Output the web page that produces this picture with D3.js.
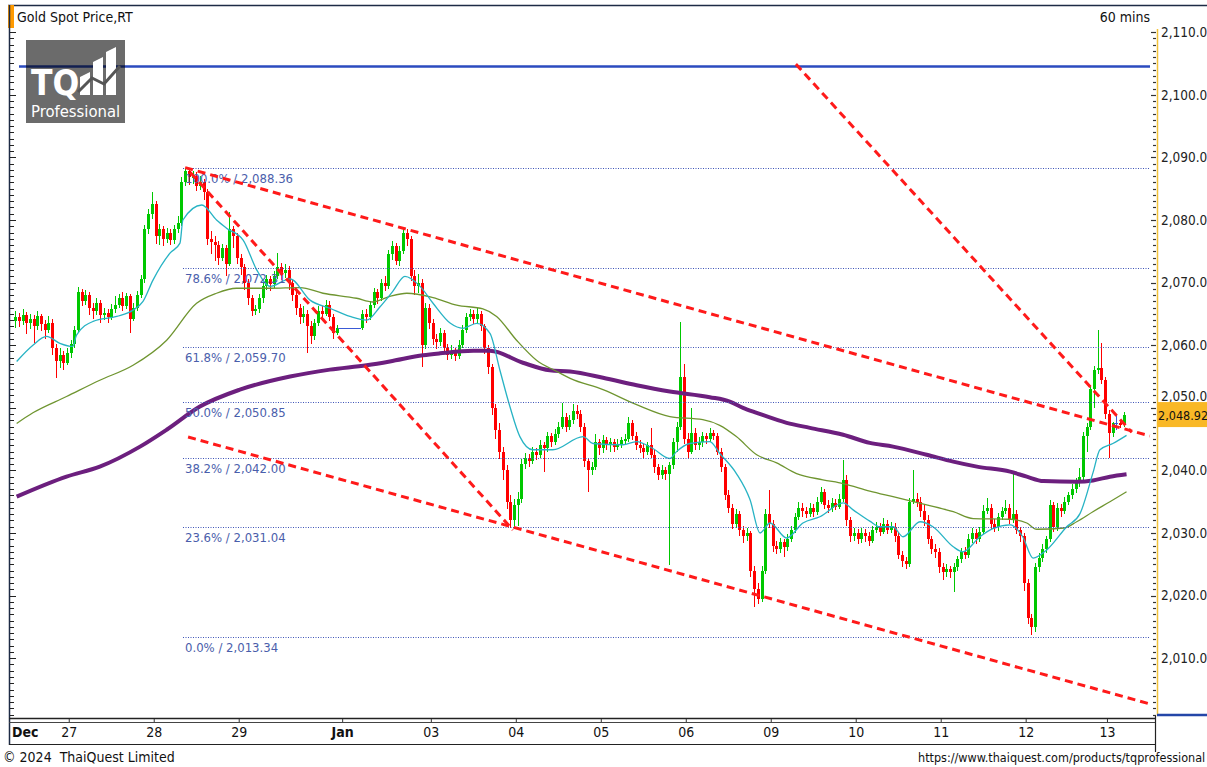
<!DOCTYPE html>
<html>
<head>
<meta charset="utf-8">
<title>Gold Spot Price,RT</title>
<script src="https://cdn.jsdelivr.net/npm/d3@7"></script>
<style>
  body { margin: 0; background: #fff; }
  svg text { font-family: "DejaVu Sans Condensed", "DejaVu Sans", sans-serif; }
</style>
</head>
<body>
<div id="container"></div>
<script>
// ---- data (hourly candles) ----
var firstOpen = 2063.8;
var closes = [
  2064.5,2063.8,2064.9,2063.5,2064.2,2063.0,2064.6,2063.4,2062.5,2063.6,
  2059.5,2057.5,2058.5,2057.2,2058.8,2060.2,2062.5,2068.5,2067.0,2068.0,
  2066.0,2065.5,2066.8,2064.8,2065.2,2064.5,2065.8,2066.5,2067.5,2066.2,
  2067.8,2064.2,2066.0,2068.0,2070.5,2078.5,2081.0,2082.5,2077.5,2078.5,
  2077.0,2078.0,2076.8,2078.5,2079.5,2086.0,2087.8,2086.8,2087.0,2085.5,
  2086.0,2084.5,2077.0,2076.5,2076.0,2074.0,2075.5,2073.0,2078.5,2077.5,
  2074.0,2072.5,2070.0,2067.5,2065.5,2065.8,2067.5,2069.5,2070.5,2069.8,
  2071.0,2072.5,2071.5,2072.0,2070.0,2068.0,2066.0,2064.5,2065.0,2063.0,
  2061.5,2063.5,2065.5,2065.0,2066.5,2064.5,2062.0,2062.8,2062.8,2062.8,
  2062.8,2062.8,2062.8,2062.8,2065.0,2064.5,2066.5,2068.5,2067.5,2070.0,
  2069.5,2074.5,2075.8,2073.5,2075.0,2078.0,2077.0,2071.0,2069.5,2070.0,
  2060.0,2066.0,2063.5,2061.0,2060.5,2062.0,2059.5,2058.5,2059.0,2058.3,
  2060.0,2062.5,2064.5,2065.0,2064.2,2065.0,2063.0,2059.5,2056.5,2050.0,
  2046.5,2043.0,2040.0,2035.0,2032.0,2034.5,2035.5,2041.0,2042.0,2041.5,
  2043.0,2042.5,2044.0,2043.5,2045.5,2044.5,2045.8,2047.0,2048.5,2047.0,
  2048.0,2049.5,2049.0,2047.0,2041.5,2040.0,2040.5,2044.5,2043.5,2044.8,
  2044.0,2044.5,2043.8,2044.2,2044.8,2045.0,2047.5,2045.5,2044.0,2043.5,
  2043.0,2044.0,2042.5,2040.5,2039.2,2040.0,2039.5,2040.8,2044.5,2047.0,
  2055.0,2045.0,2043.0,2046.0,2044.0,2044.5,2045.5,2045.0,2046.0,2045.5,
  2043.0,2040.5,2036.0,2034.0,2031.5,2033.0,2030.5,2029.5,2030.0,2024.0,
  2021.0,2019.5,2024.0,2033.0,2031.5,2028.0,2027.5,2028.5,2027.8,2029.0,
  2030.5,2032.5,2034.0,2033.5,2033.0,2034.0,2033.3,2035.0,2036.5,2034.5,
  2034.0,2034.8,2034.2,2035.5,2038.5,2032.0,2029.5,2030.0,2029.0,2030.0,
  2029.5,2028.8,2030.5,2031.0,2030.2,2031.5,2030.5,2031.0,2029.5,2026.5,
  2025.5,2025.0,2035.0,2035.5,2035.0,2033.5,2032.0,2029.0,2027.5,2027.0,
  2024.5,2023.8,2024.2,2023.7,2024.5,2025.8,2027.0,2026.5,2029.0,2030.0,
  2029.0,2030.2,2033.5,2034.0,2031.5,2031.0,2032.5,2033.5,2034.0,2032.0,
  2033.0,2030.5,2029.5,2022.0,2016.5,2015.0,2024.5,2026.0,2027.5,2029.0,
  2034.5,2031.0,2034.0,2033.5,2035.0,2036.0,2037.0,2038.0,2039.0,2045.5,
  2047.0,2053.0,2056.0,2056.3,2054.5,2049.0,2046.0,2047.6,2047.6,2047.2,
  2048.92
];
var highs = [
  2065.5,2065.2,2065.8,2065.3,2065.0,2064.8,2065.4,2065.0,2064.0,2064.6,
  2064.2,2060.2,2059.6,2059.0,2059.5,2060.8,2063.0,2069.3,2069.0,2068.8,
  2068.5,2066.8,2067.5,2067.2,2066.0,2065.8,2066.6,2067.8,2068.2,2068.5,
  2068.4,2068.2,2066.8,2068.6,2071.2,2079.2,2081.8,2084.5,2083.0,2079.4,
  2079.0,2078.8,2078.6,2079.2,2080.6,2086.8,2088.36,2088.2,2087.9,2087.6,
  2087.0,2086.5,2085.0,2078.2,2077.5,2076.6,2076.2,2076.0,2081.2,2079.0,
  2078.0,2074.6,2073.0,2070.6,2068.0,2066.5,2068.2,2070.0,2071.2,2071.0,
  2071.8,2074.7,2073.2,2073.0,2072.6,2070.4,2068.8,2066.6,2066.2,2065.6,
  2063.8,2064.2,2066.2,2066.3,2067.2,2067.0,2065.0,2063.2,2062.8,2062.8,
  2062.8,2062.8,2062.8,2062.8,2065.6,2065.8,2067.0,2069.2,2069.0,2070.6,
  2071.0,2075.2,2076.6,2076.3,2075.8,2078.9,2078.5,2077.4,2072.0,2071.4,
  2070.6,2066.8,2066.6,2064.2,2061.8,2062.8,2062.5,2060.2,2060.0,2059.6,
  2060.8,2063.2,2065.2,2065.8,2065.6,2066.0,2065.5,2063.4,2060.0,2057.0,
  2050.6,2047.6,2043.8,2040.8,2036.0,2035.4,2036.5,2041.8,2042.8,2042.6,
  2043.8,2043.6,2044.8,2044.6,2046.2,2046.0,2046.6,2047.8,2050.8,2049.2,
  2048.8,2050.6,2050.4,2049.6,2047.6,2042.0,2041.4,2045.8,2045.0,2045.6,
  2045.4,2045.2,2045.0,2045.0,2045.4,2045.8,2048.5,2048.0,2046.2,2044.8,
  2044.2,2044.6,2046.8,2043.2,2041.0,2040.8,2040.6,2041.4,2045.2,2047.8,
  2063.7,2057.0,2046.0,2050.0,2046.8,2045.4,2046.2,2046.0,2046.8,2046.5,
  2046.0,2043.6,2041.0,2036.8,2034.6,2033.8,2033.5,2031.2,2030.8,2030.4,
  2024.8,2022.0,2024.8,2033.8,2036.9,2032.0,2028.8,2029.2,2029.0,2029.8,
  2031.2,2033.2,2035.0,2034.8,2034.2,2034.8,2034.6,2035.8,2037.4,2037.0,
  2035.2,2035.6,2035.4,2036.2,2041.7,2039.2,2032.6,2030.8,2030.6,2030.8,
  2030.6,2030.2,2031.2,2031.8,2031.6,2032.4,2032.0,2031.8,2031.6,2030.0,
  2027.2,2026.2,2035.6,2040.0,2036.4,2035.8,2034.4,2032.8,2029.6,2028.2,
  2027.6,2025.2,2025.0,2024.8,2025.2,2026.4,2027.6,2027.8,2029.8,2030.8,
  2030.6,2031.0,2034.4,2035.6,2034.6,2032.2,2033.2,2034.2,2035.2,2034.6,
  2039.6,2033.6,2031.0,2030.0,2022.6,2017.0,2025.2,2026.8,2028.2,2029.6,
  2035.3,2035.0,2034.8,2034.6,2035.8,2036.6,2037.8,2038.8,2040.4,2046.2,
  2047.6,2053.6,2056.6,2062.4,2060.3,2055.0,2049.6,2047.8,2049.0,2048.0,
  2049.4
];
var lows = [
  2062.8,2062.9,2063.2,2061.8,2062.6,2060.4,2062.5,2062.2,2061.0,2062.0,
  2058.5,2054.8,2056.4,2056.0,2056.8,2058.0,2059.6,2062.0,2066.2,2066.5,
  2064.8,2064.2,2064.9,2063.6,2064.0,2063.5,2064.0,2065.2,2066.0,2065.4,
  2065.8,2062.0,2063.8,2065.5,2067.6,2070.0,2077.8,2080.2,2076.2,2076.0,
  2075.8,2076.4,2076.0,2076.2,2078.0,2079.0,2085.5,2085.6,2085.8,2084.6,
  2084.8,2083.2,2076.0,2074.5,2073.5,2072.8,2073.4,2071.0,2072.6,2075.6,
  2073.0,2071.2,2068.8,2066.4,2064.6,2064.8,2065.2,2066.8,2068.8,2068.6,
  2069.2,2070.6,2070.4,2070.8,2068.8,2067.0,2064.8,2063.4,2063.6,2058.8,
  2060.2,2060.8,2063.0,2064.2,2064.6,2063.8,2061.0,2061.6,2062.8,2062.8,
  2062.8,2062.8,2062.8,2062.8,2062.4,2063.6,2064.0,2066.0,2066.6,2067.0,
  2068.6,2069.0,2073.6,2072.8,2072.6,2074.5,2075.8,2070.2,2068.0,2068.4,
  2056.5,2059.4,2062.6,2060.0,2059.4,2059.8,2058.6,2057.6,2057.8,2057.5,
  2057.8,2059.6,2062.0,2063.8,2063.4,2063.6,2062.2,2058.6,2055.4,2048.8,
  2045.0,2041.8,2038.4,2033.8,2030.8,2031.0,2031.2,2034.8,2040.2,2040.6,
  2041.0,2041.6,2042.0,2039.8,2043.0,2043.8,2044.0,2045.2,2046.6,2046.2,
  2046.4,2047.4,2048.2,2046.2,2040.6,2036.5,2039.2,2040.0,2042.4,2042.8,
  2043.2,2043.0,2043.0,2043.2,2043.6,2044.0,2044.6,2044.8,2043.2,2042.8,
  2042.0,2042.4,2042.0,2039.6,2038.4,2038.6,2038.5,2024.9,2040.2,2043.0,
  2046.4,2044.2,2042.0,2042.6,2043.2,2043.2,2043.8,2044.2,2044.6,2044.8,
  2042.4,2039.8,2035.2,2033.2,2030.6,2030.8,2029.6,2028.4,2028.8,2023.0,
  2018.2,2018.6,2019.0,2023.4,2030.8,2027.0,2026.6,2026.8,2026.2,2027.2,
  2028.6,2030.0,2032.0,2032.6,2032.4,2032.6,2032.6,2032.8,2034.6,2033.8,
  2033.2,2033.4,2033.6,2033.8,2035.0,2031.2,2028.6,2028.8,2028.2,2028.4,
  2028.6,2028.0,2028.4,2030.0,2029.6,2029.8,2029.8,2030.0,2028.6,2025.8,
  2024.6,2024.3,2024.6,2034.6,2034.2,2032.6,2031.2,2028.2,2026.6,2026.0,
  2023.6,2022.5,2023.0,2022.8,2020.6,2024.0,2025.2,2025.8,2026.0,2028.4,
  2028.2,2028.6,2029.8,2033.0,2030.6,2030.2,2030.4,2032.0,2033.0,2031.4,
  2031.6,2029.8,2028.6,2020.8,2015.4,2013.7,2014.2,2023.8,2025.4,2026.8,
  2028.6,2030.2,2030.4,2032.6,2033.0,2034.4,2035.4,2036.4,2037.4,2038.5,
  2043.0,2046.4,2050.0,2055.4,2053.8,2048.2,2042.0,2045.4,2046.4,2046.8,
  2046.9
];

// moving averages, [candle index, price]
var maFast = [
  [0.4,2057.4],[4.8,2060.0],[8.5,2061.4],[12.1,2060.3],[15.6,2059.8],[16.6,2061.6],
  [21.1,2063.8],[27.5,2064.6],[31.9,2065.6],[34.6,2067.0],[37.3,2070.4],[41.9,2074.7],
  [44.6,2076.3],[45.4,2080.0],[50.5,2082.4],[54.5,2080.0],[57.2,2078.7],[61.7,2076.8],
  [65.4,2072.0],[69.0,2069.4],[74.4,2070.6],[79.8,2067.2],[85.2,2065.9],[90.6,2064.6],
  [95.1,2064.0],[98.7,2066.1],[102.2,2068.6],[105.5,2071.0],[109.6,2069.4],[113.1,2066.7],
  [117.8,2063.5],[121.2,2062.7],[124.9,2063.5],[128.5,2061.9],[131.2,2056.0],[133.9,2050.2],
  [136.6,2045.4],[140.1,2043.3],[145.5,2043.3],[153.7,2045.4],[156.4,2044.3],[164.5,2044.1],
  [168.2,2044.6],[172.6,2043.5],[177.2,2041.9],[179.0,2043.0],[182.6,2044.3],[188.0,2044.6],
  [190.7,2042.7],[195.2,2039.5],[198.9,2035.3],[201.6,2030.0],[204.3,2031.6],[208.8,2029.2],
  [213.2,2031.6],[217.8,2032.6],[224.1,2034.8],[226.8,2033.7],[231.3,2031.9],[234.0,2031.0],
  [237.6,2031.0],[240.3,2029.4],[244.9,2031.8],[248.4,2031.0],[253.9,2027.8],[256.5,2027.0],
  [261.1,2029.4],[264.6,2030.7],[269.3,2031.3],[272.7,2029.4],[275.5,2026.0],[279.2,2027.3],
  [284.6,2031.0],[288.2,2033.1],[291.7,2039.6],[293.6,2043.3],[297.1,2044.3],[300.8,2045.6]
];
var maMid = [
  [0.4,2047.5],[4.8,2049.2],[13.9,2051.8],[22.9,2054.4],[31.9,2056.8],[41.0,2060.8],
  [49.1,2066.7],[54.5,2068.3],[59.9,2069.1],[69.0,2069.1],[77.1,2069.2],[83.3,2068.3],
  [92.4,2067.5],[96.8,2066.9],[101.4,2067.8],[106.0,2068.3],[113.1,2067.6],[119.5,2066.4],
  [126.6,2065.8],[130.3,2064.6],[135.7,2060.8],[141.1,2057.6],[146.6,2055.8],[150.2,2054.7],
  [159.1,2052.9],[168.2,2050.5],[177.2,2048.6],[186.1,2048.1],[190.7,2047.2],[195.2,2045.4],
  [200.7,2042.5],[206.1,2041.2],[211.5,2039.5],[218.6,2038.5],[224.1,2037.9],[231.3,2036.7],
  [237.6,2035.8],[246.7,2034.5],[253.9,2033.4],[259.3,2032.3],[269.3,2032.2],[273.8,2031.6],
  [276.5,2030.6],[283.9,2030.8],[287.3,2031.8],[291.7,2033.4],[296.3,2035.0],[300.8,2036.6]
];
var maSlow = [
  [0.4,2035.8],[13.9,2039.0],[22.9,2040.6],[33.8,2043.8],[41.0,2046.5],[50.0,2050.2],
  [60.8,2052.9],[74.4,2055.0],[85.2,2056.1],[95.1,2056.8],[101.4,2057.4],[110.4,2058.4],
  [115.0,2058.7],[124.0,2059.1],[128.5,2059.1],[137.4,2057.2],[144.7,2056.0],[150.2,2055.8],
  [159.1,2054.8],[168.2,2053.6],[177.2,2052.6],[188.0,2051.7],[193.4,2051.0],[197.0,2050.0],
  [200.7,2049.2],[208.8,2047.6],[215.1,2046.8],[224.1,2045.7],[231.3,2044.4],[237.6,2043.8],
  [246.7,2042.5],[253.9,2041.4],[260.3,2040.6],[269.3,2039.8],[273.8,2039.0],[278.3,2038.3],
  [287.3,2038.2],[291.7,2038.4],[296.3,2039.0],[300.8,2039.4]
];

// fibonacci retracement
var fibPct = [100.0, 78.6, 61.8, 50.0, 38.2, 23.6, 0.0];
var fibLevels = [2088.36, 2072.31, 2059.70, 2050.85, 2042.00, 2031.04, 2013.34];

// trend lines [index1, price1, index2, price2]
var trendLines = [
  [46.0, 2088.36, 307.1, 2045.5],
  [46.8, 2045.34, 307.1, 2002.7],
  [47.4, 2087.6, 134.7, 2030.5],
  [211.3, 2104.9, 302.2, 2046.1]
];
var resistance = 2104.5;

// x axis: first candle of each day
var dayIdx = [15, 38, 61, 89, 113, 136, 159, 182, 205, 228, 251, 274, 296];
var dayLabels = ["27","28","29","Jan","03","04","05","06","09","10","11","12","13"];
var yTicks = [2010, 2020, 2030, 2040, 2050, 2060, 2070, 2080, 2090, 2100, 2110];

// ---- layout ----
var W = 1207, H = 767;
var plot = {left: 10, right: 1155, top: 29, bottom: 716};

var svg = d3.select("#container").append("svg")
    .attr("width", W).attr("height", H);

var x = d3.scaleLinear().domain([-1.4, 308.5]).range([plot.left, plot.right]);
var y = d3.scaleLinear().domain([2000.77, 2110.51]).range([plot.bottom, plot.top]);

var opens = closes.map(function(c, i){ return i === 0 ? firstOpen : closes[i-1]; });
var candles = closes.map(function(c, i){
  return {i: i, o: opens[i], h: highs[i], l: lows[i], c: c};
});

// header
svg.append("line").attr("x1", 8).attr("x2", W).attr("y1", 5.5).attr("y2", 5.5)
   .attr("stroke", "#1d2b45").attr("stroke-width", 1.5);
svg.append("rect").attr("x", 8).attr("y", 5).attr("width", 6).attr("height", 23).attr("fill", "#ff9a00");
svg.append("text").attr("x", 17).attr("y", 22).attr("font-size", 14).attr("fill", "#111")
   .text("Gold Spot Price,RT");
svg.append("text").attr("x", 1150).attr("y", 22).attr("font-size", 14).attr("fill", "#111")
   .attr("text-anchor", "end").text("60 mins");

// left frame + small ticks
svg.append("line").attr("x1", 9.5).attr("x2", 9.5).attr("y1", 5).attr("y2", 745)
   .attr("stroke", "#1d2b45").attr("stroke-width", 1.5);
var minor = d3.range(2001, 2111);
svg.append("g").selectAll("line").data(minor).enter().append("line")
   .attr("x1", 10).attr("x2", function(d){ return d % 10 === 0 ? 16 : 14; })
   .attr("y1", function(d){ return Math.round(y(d)) + 0.5; })
   .attr("y2", function(d){ return Math.round(y(d)) + 0.5; })
   .attr("stroke", "#222").attr("stroke-width", 1);

// fibonacci levels
var fib = svg.append("g");
fib.selectAll("line").data(fibLevels).enter().append("line")
   .attr("x1", 183).attr("x2", 1150)
   .attr("y1", function(d){ return Math.round(y(d)) + 0.5; })
   .attr("y2", function(d){ return Math.round(y(d)) + 0.5; })
   .attr("stroke", "#3e55b8").attr("stroke-width", 1).attr("stroke-dasharray", "1,1.5");

// resistance line
svg.append("line").attr("x1", 19).attr("x2", 1150)
   .attr("y1", y(resistance)).attr("y2", y(resistance))
   .attr("stroke", "#2b4bbf").attr("stroke-width", 2.5);

// logo
var logo = svg.append("g").attr("transform", "translate(26,40)");
logo.append("rect").attr("width", 99).attr("height", 83).attr("fill", "#000").attr("fill-opacity", 0.58);
logo.append("text").attr("x", 5).attr("y", 55).attr("font-size", 35).attr("font-weight", "bold")
   .attr("fill", "#fff").text("TQ");
var bars = [[54,37,64,32],[67,22,77,17],[80,12,90,7]];
logo.selectAll("polygon").data(bars).enter().append("polygon")
   .attr("points", function(b){ return [b[0],b[1],b[2],b[3],b[2],55,b[0],55].join(","); })
   .attr("fill", "#fff");
logo.append("path").attr("d", "M52,52 L66,38 L78,44 L94,26").attr("stroke", "#555")
   .attr("stroke-width", 3).attr("fill", "none");
logo.append("text").attr("x", 5).attr("y", 77).attr("font-size", 16.5)
   .attr("font-family", "Liberation Sans, Arial, sans-serif").attr("fill", "#fff").text("Professional");

// candles
var upC = "#00c800", dnC = "#ff0000", flatC = "#3a5ad6";
function col(d){ return d.c > d.o ? upC : (d.c < d.o ? dnC : flatC); }
var cg = svg.append("g").attr("shape-rendering", "crispEdges");
cg.selectAll(".wick").data(candles.filter(function(d){ return d.h > d.l; })).enter().append("line")
   .attr("class", "wick")
   .attr("x1", function(d){ return Math.round(x(d.i)) + 0.5; })
   .attr("x2", function(d){ return Math.round(x(d.i)) + 0.5; })
   .attr("y1", function(d){ return y(d.h); })
   .attr("y2", function(d){ return y(d.l); })
   .attr("stroke", col).attr("stroke-width", 1);
cg.selectAll(".body").data(candles).enter().append("rect")
   .attr("class", "body")
   .attr("x", function(d){ return d.c === d.o ? x(d.i) - 1.9 : Math.round(x(d.i)) - 1; })
   .attr("width", function(d){ return d.c === d.o ? 3.8 : 3; })
   .attr("y", function(d){ return y(Math.max(d.o, d.c)); })
   .attr("height", function(d){ return Math.max(1.5, Math.abs(y(d.o) - y(d.c))); })
   .attr("fill", col);

// moving averages
var line = d3.line().x(function(d){ return x(d[0]); }).y(function(d){ return y(d[1]); })
   .curve(d3.curveMonotoneX);
svg.append("path").datum(maSlow).attr("d", line).attr("fill", "none")
   .attr("stroke", "#6c1f7e").attr("stroke-width", 4);
svg.append("path").datum(maMid).attr("d", line).attr("fill", "none")
   .attr("stroke", "#6f9530").attr("stroke-width", 1.3);
svg.append("path").datum(maFast).attr("d", line).attr("fill", "none")
   .attr("stroke", "#27b3c4").attr("stroke-width", 1.3);

// fib labels
var f2 = d3.format(",.2f"), f1 = d3.format(".1f");
fib.selectAll("text").data(fibLevels).enter().append("text")
   .attr("x", 185).attr("y", function(d){ return y(d) + 15; })
   .attr("font-size", 13).attr("font-family", "Liberation Sans, Arial, sans-serif")
   .attr("fill", "#4a5eab")
   .text(function(d, i){ return f1(fibPct[i]) + "% / " + f2(d); });
svg.node().appendChild(fib.node());

// trend lines
svg.append("g").selectAll("line").data(trendLines).enter().append("line")
   .attr("x1", function(d){ return x(d[0]); }).attr("y1", function(d){ return y(d[1]); })
   .attr("x2", function(d){ return x(d[2]); }).attr("y2", function(d){ return y(d[3]); })
   .attr("stroke", "#ff1a1a").attr("stroke-width", 3).attr("stroke-dasharray", "8,5");

// right axis
svg.append("line").attr("x1", 1157.5).attr("x2", 1157.5).attr("y1", plot.top).attr("y2", plot.bottom)
   .attr("stroke", "#f2c23a").attr("stroke-width", 1.5);
svg.append("g").selectAll("line").data(minor).enter().append("line")
   .attr("x1", function(d){ return d % 10 === 0 ? 1151 : 1153; }).attr("x2", 1156)
   .attr("y1", function(d){ return Math.round(y(d)) + 0.5; })
   .attr("y2", function(d){ return Math.round(y(d)) + 0.5; })
   .attr("stroke", "#333").attr("stroke-width", 1.2);
var last = closes[closes.length - 1];
var yAxis = d3.axisRight(y).tickValues(yTicks).tickSize(0).tickPadding(0).tickFormat(d3.format(",.1f"));
var ya = svg.append("g").attr("transform", "translate(1161,0)").call(yAxis);
ya.select(".domain").remove();
ya.selectAll("text").attr("font-size", 13.5).attr("fill", "#222")
   .attr("font-family", "\"DejaVu Sans Condensed\", sans-serif");
// the level hidden behind the price tag only shows its top edge
ya.selectAll(".tick").filter(function(d){ return Math.abs(y(d) - y(last)) < 12; })
   .select("text").attr("dy", "-0.55em");

// last price tag
svg.append("rect").attr("x", 1157).attr("y", y(last) - 12.5).attr("width", 50).attr("height", 25)
   .attr("fill", "#f9b826");
svg.append("text").attr("x", 1158).attr("y", y(last) + 5).attr("font-size", 12.5).attr("fill", "#111")
   .text(f2(last));

// bottom of price pane
svg.append("line").attr("x1", 1157).attr("x2", W).attr("y1", 715).attr("y2", 715)
   .attr("stroke", "#2446a8").attr("stroke-width", 2.5);

// x axis band
svg.append("line").attr("x1", 9).attr("x2", 1155).attr("y1", 718.5).attr("y2", 718.5)
   .attr("stroke", "#222").attr("stroke-width", 1.5);
svg.append("line").attr("x1", 9).attr("x2", 1155).attr("y1", 722.5).attr("y2", 722.5)
   .attr("stroke", "#444").attr("stroke-width", 1);
svg.append("line").attr("x1", 9).attr("x2", 1155).attr("y1", 744.5).attr("y2", 744.5)
   .attr("stroke", "#222").attr("stroke-width", 1.2);
svg.append("line").attr("x1", 1155.5).attr("x2", 1155.5).attr("y1", 716).attr("y2", 752)
   .attr("stroke", "#222").attr("stroke-width", 1.2);

var xAxis = d3.axisBottom(x).tickValues(dayIdx.map(function(i){ return i - 0.5; }))
   .tickSize(3).tickPadding(5)
   .tickFormat(function(d, i){ return dayLabels[i]; });
var xa = svg.append("g").attr("transform", "translate(0,719)").call(xAxis);
xa.select(".domain").remove();
xa.selectAll("line").attr("stroke", "#333");
xa.selectAll("text").attr("font-size", 14).attr("fill", "#111")
   .attr("font-weight", function(d, i){ return dayLabels[i] === "Jan" ? "bold" : "normal"; });
svg.append("text").attr("x", 12).attr("y", 737).attr("font-size", 14).attr("font-weight", "bold")
   .attr("fill", "#111").text("Dec");

// footer
svg.append("text").attr("x", 3).attr("y", 762).attr("font-size", 14).attr("fill", "#111")
   .style("white-space", "pre").text("\u00a9 2024  ThaiQuest Limited");
svg.append("text").attr("x", 918).attr("y", 762).attr("font-size", 12.5).attr("fill", "#111")
   .text("https://www.thaiquest.com/products/tqprofessional");
</script>
</body>
</html>
